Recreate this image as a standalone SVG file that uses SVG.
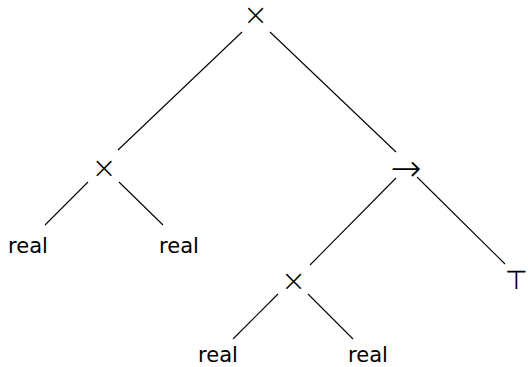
<svg xmlns="http://www.w3.org/2000/svg" width="528" height="367" viewBox="0 0 528 367">
<style>
text{font-family:"DejaVu Sans",sans-serif;font-size:21px;fill:#000;text-anchor:middle}
.op{font-size:30px;font-weight:200}
.arr{font-size:37px;font-weight:200}
.top{font-size:26px;font-weight:200}
line{stroke:#000;stroke-width:1.1}
</style>
<rect width="528" height="367" fill="#fff"/>
<g id="connectors">
<line x1="242" y1="32" x2="118" y2="150"/>
<line x1="270" y1="32" x2="396" y2="152"/>
<line x1="88" y1="182" x2="45" y2="225"/>
<line x1="119" y1="182" x2="163" y2="225"/>
<line x1="396" y1="178" x2="310" y2="265"/>
<line x1="417" y1="177" x2="505" y2="264"/>
<line x1="278" y1="294" x2="233" y2="339"/>
<line x1="308" y1="294" x2="353" y2="339"/>
</g>
<g id="root"><text class="op" x="255.5" y="25">×</text></g>
<g id="times-left"><text class="op" x="104" y="178">×</text></g>
<g id="arrow"><text class="arr" x="406" y="181">→</text></g>
<g id="real1"><text x="28" y="253">real</text></g>
<g id="real2"><text x="179" y="253">real</text></g>
<g id="times-bottom"><text class="op" x="293.5" y="291">×</text></g>
<g id="top"><text class="top" x="516" y="289">⊤</text></g>
<g id="real3"><text x="218" y="362">real</text></g>
<g id="real4"><text x="368" y="362">real</text></g>
</svg>
